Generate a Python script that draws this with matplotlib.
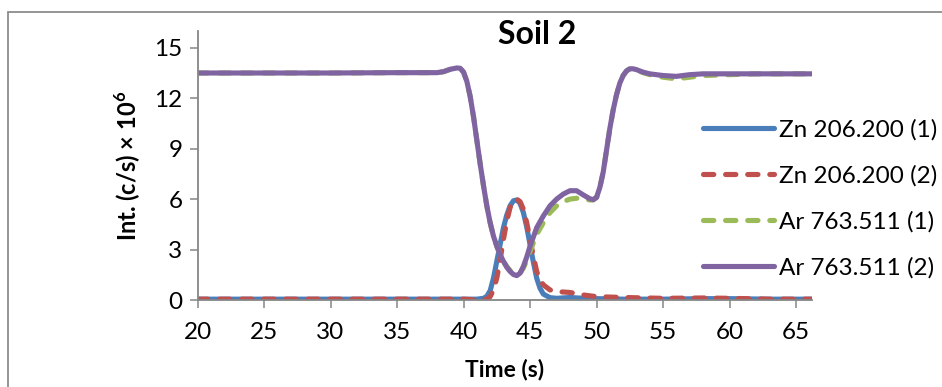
import matplotlib
matplotlib.use("Agg")
from matplotlib import pyplot as plt
from matplotlib.patches import Rectangle

plt.rcParams['font.family'] = ['Lato', 'DejaVu Sans']
plt.rcParams['mathtext.fontset'] = 'custom'
plt.rcParams['mathtext.rm'] = 'Lato'
plt.rcParams['mathtext.bf'] = 'Lato:bold'

# Zn 206.200 (1)
t_zn1 = [20, 25, 30, 35, 40, 41.0, 41.5, 41.75, 42.0, 42.25, 42.5, 42.75, 43.0, 43.25,
         43.5, 43.75, 44.0, 44.25, 44.5, 44.75, 45.0, 45.25, 45.5, 45.75, 46.0, 46.5,
         47.0, 48.0, 49.0, 50.0, 52.0, 55.0, 58.0, 60.0, 63.0, 66.2]
zn1 = [0.05, 0.05, 0.05, 0.05, 0.05, 0.05, 0.1, 0.22, 0.55, 1.3, 2.3, 3.3, 4.3, 5.05,
       5.6, 5.9, 5.95, 5.75, 5.2, 4.35, 3.3, 2.25, 1.3, 0.7, 0.35, 0.14,
       0.1, 0.15, 0.1, 0.08, 0.05, 0.05, 0.08, 0.08, 0.05, 0.05]

# Zn 206.200 (2)
t_zn2 = [20, 25, 30, 35, 40, 41.0, 41.5, 41.75, 42.0, 42.25, 42.5, 42.75, 43.0, 43.25,
         43.5, 43.75, 44.0, 44.25, 44.5, 44.75, 45.0, 45.25, 45.5, 45.75, 46.0, 46.5,
         47.0, 48.0, 49.0, 50.0, 52.0, 55.0, 58.0, 60.0, 63.0, 66.2]
zn2 = [0.05, 0.05, 0.05, 0.05, 0.05, 0.0, 0.0, 0.05, 0.2, 0.6, 1.3, 2.4, 3.6, 4.7,
       5.5, 5.9, 6.0, 5.85, 5.4, 4.6, 3.6, 2.6, 1.7, 1.2, 0.9, 0.6,
       0.5, 0.45, 0.3, 0.2, 0.15, 0.1, 0.12, 0.1, 0.05, 0.05]

# Ar 763.511 (1)
t_ar1 = [20, 25, 30, 35, 37, 38, 38.5, 39, 39.5, 39.75, 40.0, 40.25, 40.5, 40.75, 41.0,
         41.25, 41.5, 41.75, 42.0, 42.25, 42.5, 42.75, 43.0, 43.25, 43.5, 43.75, 44.0,
         44.25, 44.5, 44.75, 45.0, 45.5, 46.0, 46.5, 47.0, 47.5, 48.0, 48.5, 49.0, 49.5,
         49.75, 50.0, 50.25, 50.5, 50.75, 51.0, 51.25, 51.5, 51.75, 52.0, 52.25, 52.5,
         52.75, 53.0, 53.5, 54.0, 55.0, 56.0, 57.0, 58.0, 60.0, 62.0, 64.0, 66.2]
ar1 = [13.5, 13.5, 13.5, 13.52, 13.52, 13.52, 13.58, 13.72, 13.8, 13.78, 13.55, 13.0,
       12.1, 10.9, 9.5, 8.1, 6.8, 5.6, 4.6, 3.8, 3.2, 2.7, 2.3, 2.0, 1.75, 1.57, 1.5,
       1.6, 1.9, 2.35, 2.9, 3.9, 4.6, 5.2, 5.6, 5.85, 6.0, 6.05, 6.0, 5.95,
       5.95, 6.1, 6.7, 7.6, 8.9, 10.2, 11.3, 12.2, 12.9, 13.35, 13.62, 13.75,
       13.75, 13.68, 13.52, 13.4, 13.25, 13.15, 13.25, 13.35, 13.4, 13.45, 13.45, 13.45]

# Ar 763.511 (2)
t_ar2 = [20, 25, 30, 35, 37, 38, 38.5, 39, 39.5, 39.75, 40.0, 40.25, 40.5, 40.75, 41.0,
         41.25, 41.5, 41.75, 42.0, 42.25, 42.5, 42.75, 43.0, 43.25, 43.5, 43.75, 44.0,
         44.25, 44.5, 44.75, 45.0, 45.5, 46.0, 46.5, 47.0, 47.5, 48.0, 48.5, 49.0, 49.5,
         49.75, 50.0, 50.25, 50.5, 50.75, 51.0, 51.25, 51.5, 51.75, 52.0, 52.25, 52.5,
         52.75, 53.0, 53.5, 54.0, 55.0, 56.0, 57.0, 58.0, 60.0, 62.0, 64.0, 66.2]
ar2 = [13.5, 13.5, 13.5, 13.52, 13.52, 13.52, 13.58, 13.72, 13.8, 13.78, 13.55, 13.0,
       12.1, 10.9, 9.5, 8.1, 6.8, 5.6, 4.6, 3.8, 3.2, 2.7, 2.3, 1.95, 1.7, 1.52, 1.45,
       1.6, 2.0, 2.55, 3.2, 4.3, 5.0, 5.6, 6.0, 6.3, 6.5, 6.5, 6.25, 6.02,
       5.97, 6.1, 6.7, 7.6, 8.9, 10.2, 11.3, 12.2, 12.9, 13.35, 13.62, 13.75,
       13.75, 13.7, 13.55, 13.45, 13.35, 13.3, 13.4, 13.45, 13.45, 13.45, 13.45, 13.45]

labels = ["Zn 206.200 (1)", "Zn 206.200 (2)", "Ar 763.511 (1)", "Ar 763.511 (2)"]
x_ticks = [20, 25, 30, 35, 40, 45, 50, 55, 60, 65]
y_ticks = [0, 3, 6, 9, 12, 15]

fig = plt.figure(figsize=(9.42, 3.87), dpi=100)
ax = fig.add_axes([0.2097, 0.2248, 0.862 - 0.2097, 0.92 - 0.2248])

lw = 3.7
ax.plot(t_zn1, zn1, color="#4A7EBB", lw=lw, solid_capstyle="round", solid_joinstyle="round", label=labels[0])
ax.plot(t_zn2, zn2, color="#C0504D", lw=lw, dashes=(2.0, 2.3), dash_capstyle="round", dash_joinstyle="round", label=labels[1])
ax.plot(t_ar1, ar1, color="#9BBB59", lw=lw, dashes=(2.0, 2.3), dash_capstyle="round", dash_joinstyle="round", label=labels[2])
ax.plot(t_ar2, ar2, color="#8064A2", lw=lw, solid_capstyle="round", solid_joinstyle="round", label=labels[3])

ax.set_xlim(20, 66.2)
ax.set_ylim(0, 16)
ax.set_xticks(x_ticks)
ax.set_yticks(y_ticks)
for s in ["top", "right"]:
    ax.spines[s].set_visible(False)
for s in ["left", "bottom"]:
    ax.spines[s].set_color("#868686")
    ax.spines[s].set_linewidth(1.3)
ax.tick_params(axis="both", direction="out", length=6, width=1.1, color="#868686",
               labelsize=17.5, pad=5)
ax.tick_params(axis="x", pad=10)
ax.set_xlabel("Time (s)", fontsize=16.5, fontweight="bold", labelpad=11)
ax.set_ylabel(r"Int. (c/s) × 10$^\mathbf{6}$", fontsize=17, fontweight="bold", labelpad=8)
fig.text(0.57, 0.91, "Soil 2", fontsize=23, fontweight="bold", ha="center", va="center")

ax.legend(loc="upper left", bbox_to_anchor=(0.746, 0.692), bbox_transform=fig.transFigure,
          frameon=False, fontsize=17.5, handlelength=2.95, handletextpad=0.2,
          labelspacing=1.0, borderpad=0, borderaxespad=0)

fig.patches.append(Rectangle((8 / 942, -0.1), 1.2, 1 - 11.5 / 387 + 0.1, transform=fig.transFigure,
                             fill=False, edgecolor="#8c8c8c", lw=1.3))

fig.savefig("out.png", dpi=100)
